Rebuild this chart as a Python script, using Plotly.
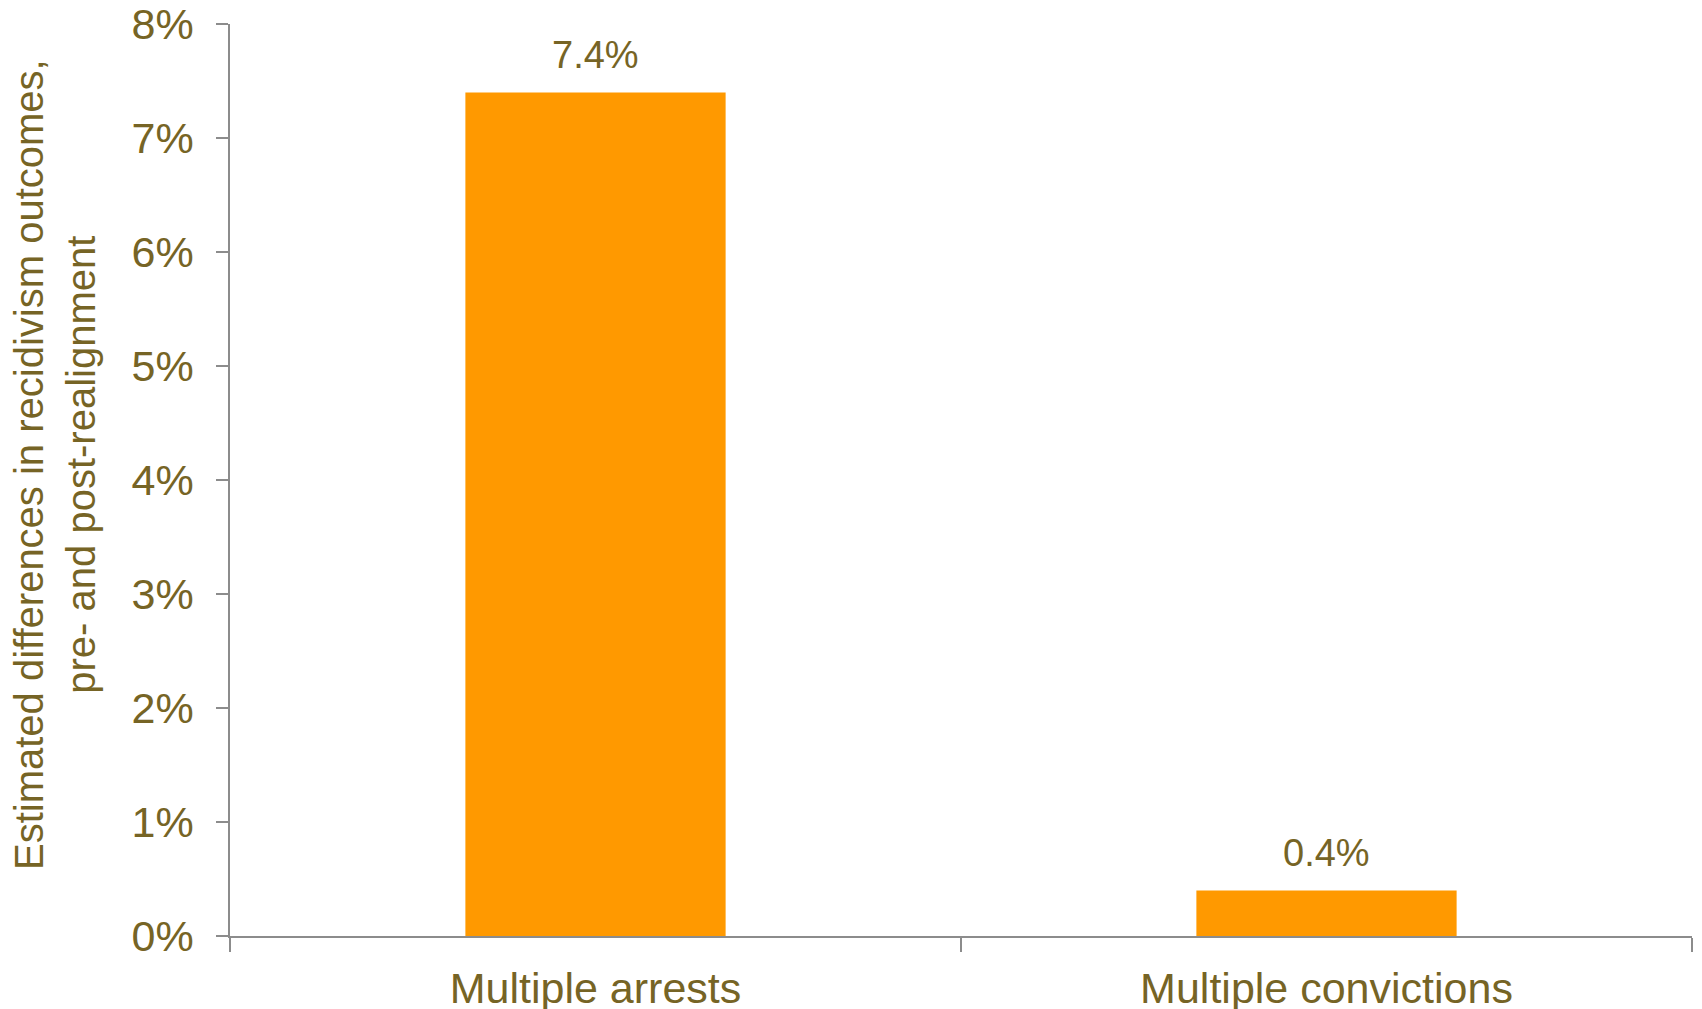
import plotly.graph_objects as go

categories = ["Multiple arrests", "Multiple convictions"]
values = [0.074, 0.004]
y_ticks = [0, 0.01, 0.02, 0.03, 0.04, 0.05, 0.06, 0.07, 0.08]
y_title = "Estimated differences in recidivism outcomes,<br>pre- and post-realignment"

TEXT = "#766425"
BAR = "#FF9900"
AXIS = "#8C8C8C"
FONT = "Liberation Sans, Arial, sans-serif"

fig = go.Figure()
fig.add_trace(go.Bar(x=categories, y=values, width=0.356, marker=dict(color=BAR, line=dict(width=0))))

for c, v in zip(categories, values):
    fig.add_annotation(x=c, y=v, text=f"{v*100:.1f}%", showarrow=False, yanchor="bottom",
                       yshift=14, font=dict(size=38, color=TEXT, family=FONT))

fig.add_annotation(xref="paper", yref="paper", x=-0.1197, y=0.5175, text=y_title,
                   textangle=-90, showarrow=False, xanchor="center", yanchor="middle",
                   font=dict(size=40, color=TEXT, family=FONT))

fig.update_layout(
    width=1702, height=1009,
    margin=dict(l=230, r=10, t=24, b=73, autoexpand=False),
    paper_bgcolor="white", plot_bgcolor="white",
    showlegend=False,
    font=dict(family=FONT, color=TEXT, size=43),
)
fig.update_xaxes(
    automargin=False,
    showline=True, linecolor=AXIS, linewidth=1.5,
    ticks="outside", tickson="boundaries", ticklen=14, tickcolor=AXIS, tickwidth=1.5,
    tickfont=dict(size=43, color=TEXT, family=FONT), showgrid=False,
    ticklabelstandoff=14,
)
fig.update_yaxes(
    automargin=False,
    range=[0, 0.08], tickvals=y_ticks, tickformat=".0%",
    showline=True, linecolor=AXIS, linewidth=1.5,
    ticks="outside", ticklen=12, tickcolor=AXIS, tickwidth=1.5,
    tickfont=dict(size=43, color=TEXT, family=FONT), showgrid=False, zeroline=False,
    ticklabelstandoff=14,
)

fig.write_html("out.html", config={"displayModeBar": False},
               post_script="document.body.style.margin='0';document.body.style.overflow='hidden';")
